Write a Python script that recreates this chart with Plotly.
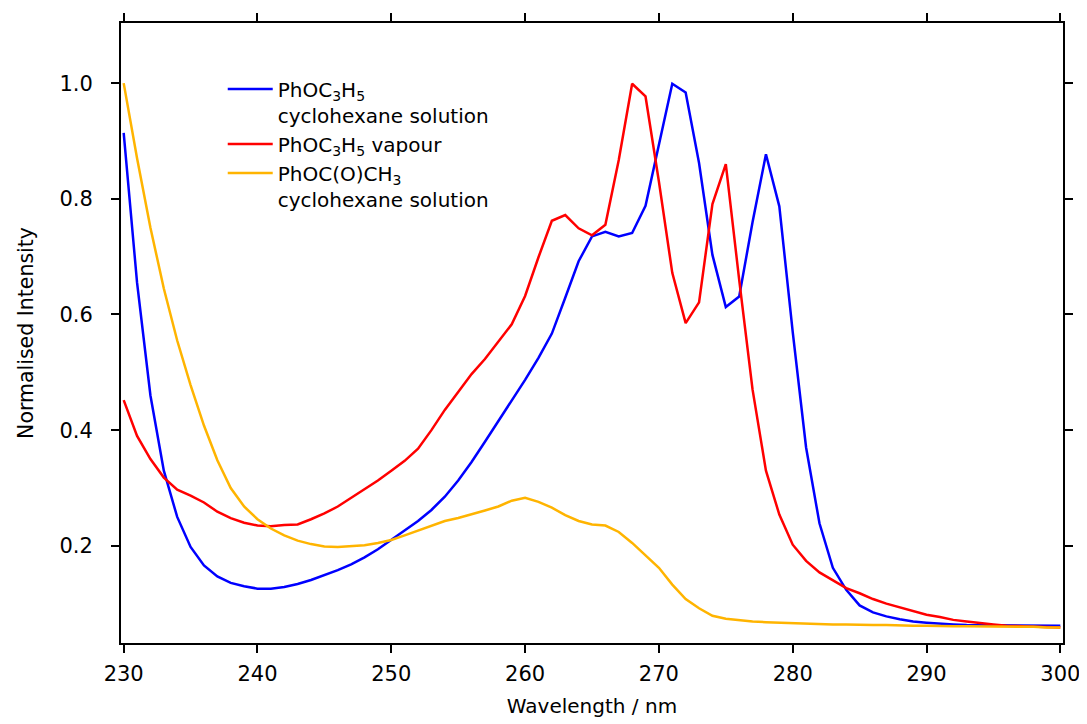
import plotly.graph_objects as go

wavelength = list(range(230, 301))

phoc3h5_solution = [
    0.914, 0.655, 0.460, 0.330, 0.250, 0.198, 0.166, 0.147, 0.136, 0.130,
    0.126, 0.126, 0.129, 0.134, 0.141, 0.149, 0.158, 0.168, 0.180, 0.194,
    0.210, 0.226, 0.243, 0.262, 0.285, 0.313, 0.345, 0.380, 0.415, 0.450,
    0.487, 0.525, 0.567, 0.629, 0.692, 0.735, 0.743, 0.735, 0.741, 0.788,
    0.893, 0.999, 0.984, 0.862, 0.703, 0.613, 0.631, 0.760, 0.877, 0.787,
    0.570, 0.370, 0.239, 0.162, 0.124, 0.097, 0.085, 0.078, 0.073, 0.069,
    0.067, 0.065, 0.064, 0.063, 0.063, 0.062, 0.062, 0.062, 0.062, 0.062,
    0.062,
]

phoc3h5_vapour = [
    0.452, 0.390, 0.350, 0.318, 0.297, 0.287, 0.275, 0.259, 0.248, 0.240,
    0.235, 0.234, 0.236, 0.237, 0.246, 0.256, 0.268, 0.283, 0.298, 0.313,
    0.330, 0.347, 0.368, 0.400, 0.435, 0.465, 0.497, 0.523, 0.552, 0.583,
    0.632, 0.699, 0.762, 0.772, 0.749, 0.737, 0.755, 0.867, 0.999, 0.977,
    0.830, 0.672, 0.585, 0.621, 0.791, 0.860, 0.660, 0.470, 0.330, 0.254,
    0.202, 0.174, 0.154, 0.140, 0.127, 0.118, 0.108, 0.100, 0.094, 0.087,
    0.081, 0.077, 0.072, 0.069, 0.066, 0.064, 0.062, 0.061, 0.060, 0.060,
    0.059,
]

phococh3_solution = [
    1.000, 0.870, 0.750, 0.645, 0.555, 0.478, 0.408, 0.348, 0.300, 0.268,
    0.246, 0.230, 0.218, 0.209, 0.203, 0.199, 0.198, 0.199, 0.201, 0.205,
    0.210, 0.218, 0.226, 0.235, 0.243, 0.248, 0.254, 0.261, 0.268, 0.278,
    0.283, 0.276, 0.266, 0.253, 0.243, 0.237, 0.235, 0.224, 0.205, 0.184,
    0.162, 0.133, 0.108, 0.092, 0.079, 0.074, 0.071, 0.069, 0.068, 0.067,
    0.066, 0.065, 0.065, 0.064, 0.064, 0.063, 0.063, 0.063, 0.062, 0.062,
    0.062, 0.061, 0.061, 0.061, 0.061, 0.060, 0.060, 0.060, 0.060, 0.059,
    0.059,
]

series_names = [
    "PhOC<sub>3</sub>H<sub>5</sub><br>cyclohexane solution",
    "PhOC<sub>3</sub>H<sub>5</sub> vapour",
    "PhOC(O)CH<sub>3</sub><br>cyclohexane solution",
]
series_colors = ["#0000FF", "#FF0000", "#FFB400"]

x_ticks = [230, 240, 250, 260, 270, 280, 290, 300]
y_ticks = [0.2, 0.4, 0.6, 0.8, 1.0]
y_tick_labels = ["0.2", "0.4", "0.6", "0.8", "1.0"]

x_range = [229.8, 300.2]
y_range = [0.032, 1.104]

fig = go.Figure()
for name, vals, col in zip(series_names,
                           [phoc3h5_solution, phoc3h5_vapour, phococh3_solution],
                           series_colors):
    fig.add_trace(go.Scatter(x=wavelength, y=vals, mode="lines", name=name,
                             line=dict(color=col, width=2.5)))

font_main = "DejaVu Sans"

axis_common = dict(showgrid=False, zeroline=False, ticklen=8, tickwidth=2,
                   tickcolor="black")

fig.update_layout(
    width=1079, height=716,
    margin=dict(l=113, r=24, t=15, b=81, autoexpand=False),
    paper_bgcolor="white", plot_bgcolor="white",
    font=dict(family=font_main, size=20, color="black"),
    showlegend=True,
    legend=dict(x=0.108, y=0.925, xanchor="left", yanchor="top",
                bgcolor="rgba(0,0,0,0)", borderwidth=0,
                font=dict(family=font_main, size=20, color="black"),
                valign="top", itemwidth=45),
    xaxis=dict(range=x_range, tickvals=x_ticks, ticks="outside", mirror="ticks",
               showline=True, linecolor="black", linewidth=2,
               title=dict(text="Wavelength / nm", font=dict(size=20), standoff=14),
               tickfont=dict(size=21), ticklabelstandoff=3, **axis_common),
    yaxis=dict(range=y_range, tickvals=y_ticks, ticktext=y_tick_labels,
               ticks="outside", mirror="ticks",
               showline=True, linecolor="black", linewidth=2,
               title=dict(text="Normalised Intensity",
                          font=dict(size=20.5, family=font_main), standoff=20),
               tickfont=dict(size=21), ticklabelstandoff=14, **axis_common),
    xaxis2=dict(range=x_range, tickvals=x_ticks, ticks="inside", mirror="ticks",
                overlaying="x", anchor="y", side="bottom", showline=False,
                showticklabels=False, **axis_common),
    yaxis2=dict(range=y_range, tickvals=y_ticks, ticks="inside", mirror="ticks",
                overlaying="y", anchor="x", side="left", showline=False,
                showticklabels=False, **axis_common),
)

fig.write_html("out.html")
